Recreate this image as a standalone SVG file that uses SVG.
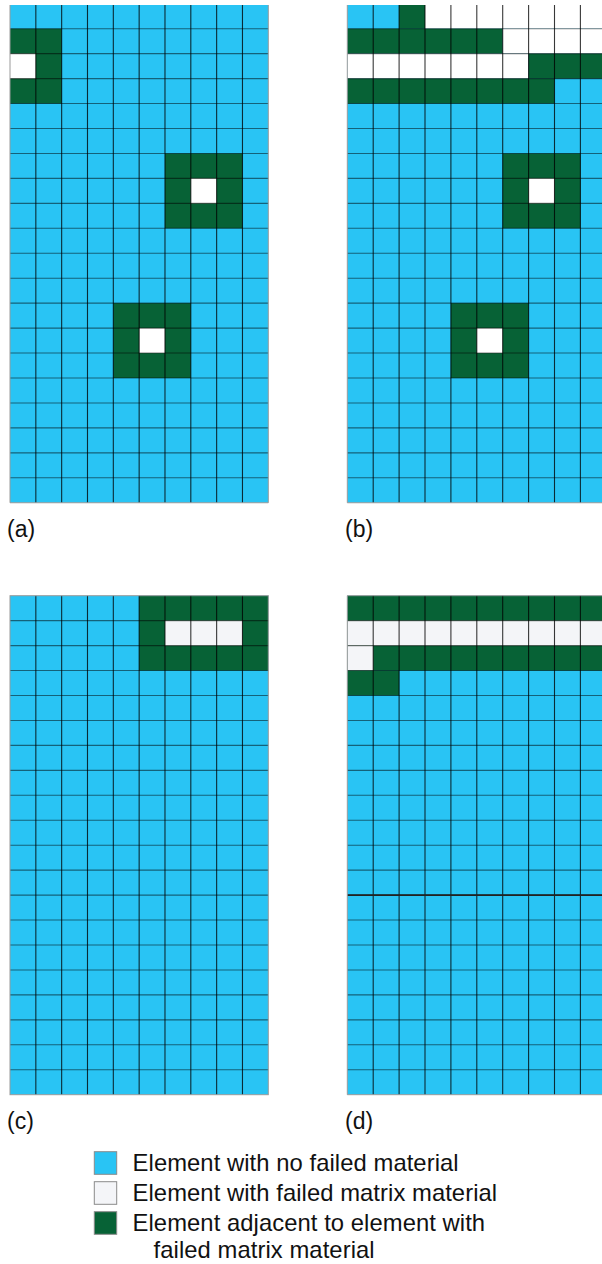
<svg xmlns="http://www.w3.org/2000/svg" xmlns:xlink="http://www.w3.org/1999/xlink" width="602" height="1264" viewBox="0 0 602 1264">
<style>
.bl{fill:#29C4F4}
.gr{fill:#076236}
.wh{fill:#FFFFFF}
.lt{fill:#F4F5F8}
.v{fill:none;stroke:#000;stroke-opacity:.78;stroke-width:1.1}
.h{fill:none;stroke:#000;stroke-opacity:.5;stroke-width:1.1}
.bd{fill:none;stroke:#9a9a9a;stroke-width:1}
.lab{font-family:"Liberation Sans",Arial,sans-serif;font-size:23px;fill:#111}
.leg{font-family:"Liberation Sans",Arial,sans-serif;font-size:23.8px;fill:#111}
</style>
<defs>
<path id="vlT" d="M25.83 1.25V499M51.66 1.25V499M77.49 1.25V499M103.32 1.25V499M129.15 1.25V499M154.98 1.25V499M180.81 1.25V499M206.64 1.25V499M232.47 1.25V499"/>
<path id="vlB" d="M25.83 0V499M51.66 0V499M77.49 0V499M103.32 0V499M129.15 0V499M154.98 0V499M180.81 0V499M206.64 0V499M232.47 0V499"/>
<path id="vrT" d="M25.9 1.25V499M51.8 1.25V499M77.7 1.25V499M103.6 1.25V499M129.5 1.25V499M155.4 1.25V499M181.3 1.25V499M207.2 1.25V499M233.1 1.25V499"/>
<path id="vrB" d="M25.9 0V499M51.8 0V499M77.7 0V499M103.6 0V499M129.5 0V499M155.4 0V499M181.3 0V499M207.2 0V499M233.1 0V499"/>
<path id="hl" d="M0 24.95H258.3M0 49.9H258.3M0 74.85H258.3M0 99.8H258.3M0 124.75H258.3M0 149.7H258.3M0 174.65H258.3M0 199.6H258.3M0 224.55H258.3M0 249.5H258.3M0 274.45H258.3M0 299.4H258.3M0 324.35H258.3M0 349.3H258.3M0 374.25H258.3M0 399.2H258.3M0 424.15H258.3M0 449.1H258.3M0 474.05H258.3"/>
<path id="hr" d="M0 24.95H259M0 49.9H259M0 74.85H259M0 99.8H259M0 124.75H259M0 149.7H259M0 174.65H259M0 199.6H259M0 224.55H259M0 249.5H259M0 274.45H259M0 299.4H259M0 324.35H259M0 349.3H259M0 374.25H259M0 399.2H259M0 424.15H259M0 449.1H259M0 474.05H259"/>
</defs>
<rect width="602" height="1264" fill="#fff"/>

<g id="grid-a" transform="translate(10,3.75)">
<rect class="bl" x="0" y="1.25" width="258.3" height="497.75"/>
<rect class="gr" x="0" y="24.95" width="51.66" height="74.85"/>
<rect class="wh" x="0" y="49.9" width="25.83" height="24.95"/>
<rect class="gr" x="154.98" y="149.7" width="77.49" height="74.85"/>
<rect class="wh" x="180.81" y="174.65" width="25.83" height="24.95"/>
<rect class="gr" x="103.32" y="299.4" width="77.49" height="74.85"/>
<rect class="wh" x="129.15" y="324.35" width="25.83" height="24.95"/>
<use href="#vlT" class="v"/>
<use href="#hl" class="h"/>
<path class="bd" d="M0 1.25V499H258.3V1.25"/>
</g>

<g id="grid-b" transform="translate(347.3,3.75)">
<rect class="bl" x="0" y="1.25" width="259" height="497.75"/>
<rect class="gr" x="51.8" y="1.25" width="25.9" height="23.7"/>
<rect class="wh" x="77.7" y="1.25" width="181.3" height="23.7"/>
<rect class="gr" x="0" y="24.95" width="155.4" height="24.95"/>
<rect class="wh" x="155.4" y="24.95" width="103.6" height="24.95"/>
<rect class="wh" x="0" y="49.9" width="181.3" height="24.95"/>
<rect class="gr" x="181.3" y="49.9" width="77.7" height="24.95"/>
<rect class="gr" x="0" y="74.85" width="207.2" height="24.95"/>
<rect class="gr" x="155.4" y="149.7" width="77.7" height="74.85"/>
<rect class="wh" x="181.3" y="174.65" width="25.9" height="24.95"/>
<rect class="gr" x="103.6" y="299.4" width="77.7" height="74.85"/>
<rect class="wh" x="129.5" y="324.35" width="25.9" height="24.95"/>
<use href="#vrT" class="v"/>
<use href="#hr" class="h"/>
<path class="bd" d="M0 1.25V499H259"/>
</g>

<g id="grid-c" transform="translate(10,595.7)">
<rect class="bl" x="0" y="0" width="258.3" height="499"/>
<rect class="gr" x="129.15" y="0" width="129.15" height="74.85"/>
<rect class="lt" x="154.98" y="24.95" width="77.49" height="24.95"/>
<use href="#vlB" class="v"/>
<use href="#hl" class="h"/>
<rect class="bd" x="0" y="0" width="258.3" height="499"/>
</g>

<g id="grid-d" transform="translate(347.3,595.7)">
<rect class="bl" x="0" y="0" width="259" height="499"/>
<rect class="gr" x="0" y="0" width="259" height="74.85"/>
<rect class="lt" x="0" y="24.95" width="259" height="24.95"/>
<rect class="lt" x="0" y="49.9" width="25.9" height="24.95"/>
<rect class="gr" x="0" y="74.85" width="51.8" height="24.95"/>
<use href="#vrB" class="v"/>
<use href="#hr" class="h"/>
<path d="M0 299.4H259" fill="none" stroke="#222" stroke-width="1.8"/>
<path class="bd" d="M259 0H0V499H259"/>
</g>

<g id="labels">
<text class="lab" x="7" y="537">(a)</text>
<text class="lab" x="345" y="537">(b)</text>
<text class="lab" x="7" y="1129">(c)</text>
<text class="lab" x="345" y="1129">(d)</text>
</g>

<g id="legend">
<rect class="bl" x="94.3" y="1151.7" width="22.4" height="22.6" stroke="#8a8a8a" stroke-width="1"/>
<rect class="lt" x="94.3" y="1181.7" width="22.4" height="22.6" stroke="#8a8a8a" stroke-width="1"/>
<rect class="gr" x="94.3" y="1211.7" width="22.4" height="22.6" stroke="#8a8a8a" stroke-width="1"/>
<text class="leg" x="132.6" y="1171" textLength="326">Element with no failed material</text>
<text class="leg" x="132.6" y="1201" textLength="364.5">Element with failed matrix material</text>
<text class="leg" x="132.6" y="1231" textLength="352.5">Element adjacent to element with</text>
<text class="leg" x="153.6" y="1258" textLength="221">failed matrix material</text>
</g>
</svg>
